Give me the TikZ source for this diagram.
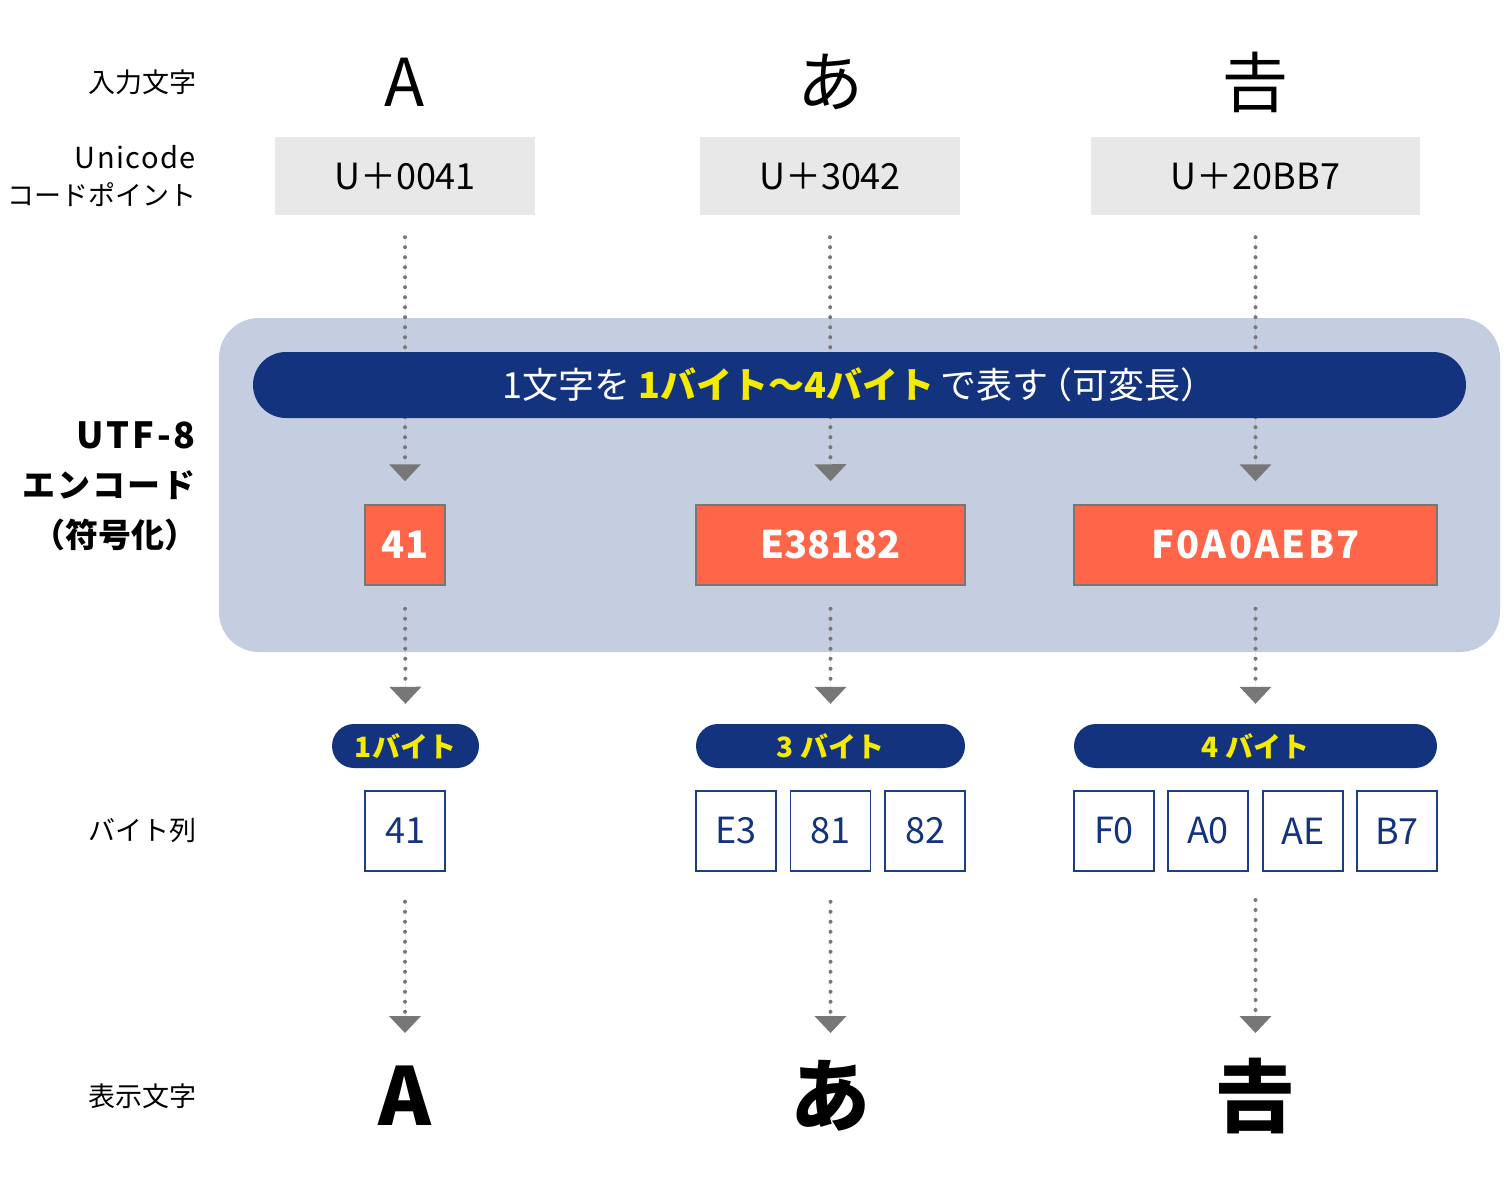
\documentclass[tikz,border=0pt]{standalone}
\usepackage{fontspec}
\setmainfont{Noto Sans CJK JP}
\usetikzlibrary{arrows.meta}
\definecolor{navy}{HTML}{14337F}
\definecolor{panelc}{HTML}{C5CDE0}
\definecolor{codegray}{HTML}{E8E8E8}
\definecolor{redbox}{HTML}{FF6549}
\definecolor{yel}{HTML}{F5EB00}
\definecolor{dotgray}{HTML}{777777}
\definecolor{bytenavy}{HTML}{1E3C8C}
\newcommand\fsz[1]{\fontsize{#1}{#1}\selectfont}
\tikzset{
  lbl/.style={anchor=east, inner sep=0pt, font=\fsz{27}},
  topchar/.style={inner sep=0pt, font=\fsz{66}},
  botchar/.style={inner sep=0pt, font=\fsz{80}\bfseries},
  codebox/.style={fill=codegray, minimum height=78pt, inner sep=0pt, font=\fsz{36}},
  redbx/.style={fill=redbox, draw=dotgray, line width=1.5pt, minimum height=80pt, inner sep=0pt, text=white, font=\fsz{38}\bfseries},
  bytepill/.style={fill=navy, rounded corners=22pt, minimum height=44pt, inner sep=0pt, text=yel, font=\fsz{28}\bfseries},
  bytebox/.style={fill=white, draw=bytenavy, line width=1.5pt, minimum width=80pt, minimum height=80pt, inner sep=0pt, text=navy, font=\fsz{36}},
  flow/.style={draw=dotgray, line width=4pt, line cap=round, dash pattern=on 0pt off 10pt,
    -{Triangle[width=32pt,length=17pt,line width=0pt]}, fill=dotgray},
}
\begin{document}
\begin{tikzpicture}[x=1pt,y=-1pt]
\useasboundingbox (0,0) rectangle (1508,1196);
\fill[white] (0,0) rectangle (1508,1196);

% background panel
\node[fill=panelc, rounded corners=40pt, minimum width=1281pt, minimum height=334pt, inner sep=0pt] (panel) at (859.5,485) {};

% left labels
\node[lbl] (lin) at (197,82) {入力文字};
\node[lbl, font=\fsz{29}\addfontfeatures{LetterSpace=5}] (luni) at (196,157) {Unicode};
\node[lbl] (lcp) at (197,195) {コードポイント};
\node[lbl, font=\fsz{36}\bfseries\addfontfeatures{LetterSpace=8}] (lutf) at (196,435) {UTF-8};
\node[lbl, font=\fsz{33}\bfseries\addfontfeatures{LetterSpace=6}] (lenc) at (196,485) {エンコード};
\node[lbl, font=\fsz{33}\bfseries] (lfh) at (198,535) {（符号化）};
\node[lbl] (lbs) at (197,831) {バイト列};
\node[lbl] (lds) at (197,1096) {表示文字};

% input characters
\node[topchar] (i1) at (405,82) {A};
\node[topchar] (i2) at (830,82) {あ};
\node[topchar] (i3) at (1255,82) {𠮷};

% code points
\node[codebox, minimum width=260pt] (c1) at (405,176) {U＋0041};
\node[codebox, minimum width=260pt] (c2) at (830,176) {U＋3042};
\node[codebox, minimum width=329pt] (c3) at (1255.5,176) {U＋20BB7};

% encoded
\node[redbx, minimum width=80pt] (r1) at (405,545) {41};
\node[redbx, minimum width=269pt] (r2) at (830.5,545) {E38182};
\node[redbx, minimum width=363pt, font=\fsz{38}\bfseries\addfontfeatures{LetterSpace=6}] (r3) at (1255.5,545) {F0A0AEB7};

% byte count pills
\node[bytepill, minimum width=147pt] (p1) at (405.5,746) {1バイト};
\node[bytepill, minimum width=269pt] (p2) at (830.5,746) {3 バイト};
\node[bytepill, minimum width=363pt] (p3) at (1255.5,746) {4 バイト};

% byte boxes
\node[bytebox] (b1) at (405,831) {41};
\node[bytebox] (b2a) at (736,831) {E3};
\node[bytebox] (b2b) at (830.5,831) {81};
\node[bytebox] (b2c) at (925,831) {82};
\node[bytebox] (b3a) at (1114,831) {F0};
\node[bytebox] (b3b) at (1208,831) {A0};
\node[bytebox] (b3c) at (1303,831) {AE};
\node[bytebox] (b3d) at (1397,831) {B7};

% display characters
\node[botchar] (d1) at (405,1096) {A};
\node[botchar] (d2) at (830,1096) {あ};
\node[botchar] (d3) at (1255,1096) {𠮷};

\coordinate (s3) at (1255.5,900);
\coordinate (e1) at (405,1033);
\coordinate (e2) at (830.5,1033);
\coordinate (e3) at (1255.5,1033);

% connectors
\draw[flow] ([yshift=-22pt]c1.south) -- ([yshift=23pt]r1.north);
\draw[flow] ([yshift=-22pt]c2.south) -- ([yshift=23pt]r2.north);
\draw[flow] ([yshift=-22pt]c3.south) -- ([yshift=23pt]r3.north);
\draw[flow] ([yshift=-23pt]r1.south) -- ([yshift=20pt]p1.north);
\draw[flow] ([yshift=-23pt]r2.south) -- ([yshift=20pt]p2.north);
\draw[flow] ([yshift=-23pt]r3.south) -- ([yshift=20pt]p3.north);
\draw[flow] ([yshift=-30pt]b1.south) -- (e1);
\draw[flow] ([yshift=-30pt]b2b.south) -- (e2);
\draw[flow] (s3) -- (e3);

% main pill on top
\node[fill=navy, rounded corners=33pt, minimum width=1213pt, minimum height=66pt, inner sep=0pt,
  text=white, font=\fsz{36}] (pill) at (859.5,385)
  {1文字を\hspace{8pt}{\color{yel}\bfseries 1バイト～4バイト}\hspace{6pt}で表す\hspace{-12pt}（可変長）};
\end{tikzpicture}
\end{document}
